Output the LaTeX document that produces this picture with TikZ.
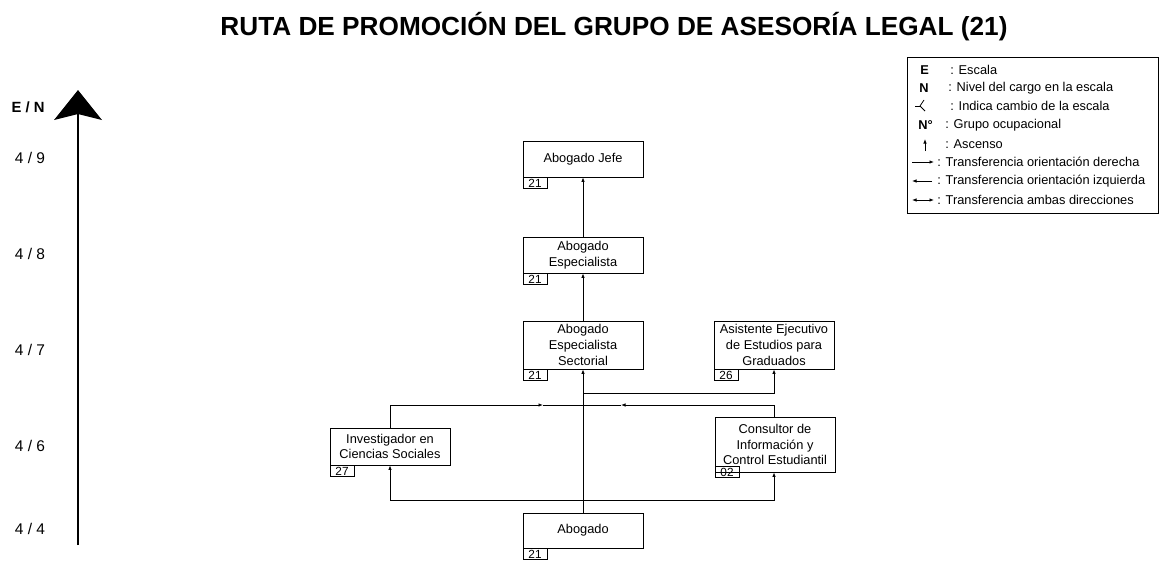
\documentclass[tikz,border=0pt]{standalone}
\usepackage{fontspec}
\setmainfont{Liberation Sans}
\usetikzlibrary{arrows.meta}

\tikzset{
  cargo/.style={draw, line width=0.8pt, minimum width=120pt, align=center, inner sep=0pt,
    font=\fontsize{12.8}{15.8}\selectfont},
  grupo/.style={draw, line width=0.8pt, minimum width=24pt, minimum height=11pt, inner sep=0pt,
    anchor=north west, font=\fontsize{11.8}{11}\selectfont},
  nivel/.style={font=\fontsize{15.5}{16}\selectfont},
  ley/.style={anchor=west, inner sep=0pt, font=\fontsize{12.8}{14}\selectfont},
}

\begin{document}
\begin{tikzpicture}[x=1pt,y=-1pt,line width=0.8pt,>={Latex[length=4.5pt,width=3.5pt]}]
            \useasboundingbox (0,0) rectangle (1162,566);

            % title
            \node[font=\fontsize{26.2}{28}\selectfont\bfseries] (titulo) at (614,27)
                {RUTA DE PROMOCIÓN DEL GRUPO DE ASESORÍA LEGAL (21)};

            % draw the scale axis
            \draw[line width=2.4pt] (78,545) -- (78,114);
            \fill (54,120) -- (78,90) -- (102,120) -- (78,114) -- cycle;
            \node[font=\fontsize{14.8}{16}\selectfont\bfseries] (en) at (28,107) {E / N};
            \node[nivel] (n9) at (30,158) {4 / 9};
            \node[nivel] (n8) at (30,254) {4 / 8};
            \node[nivel] (n7) at (30,350) {4 / 7};
            \node[nivel] (n6) at (30,446) {4 / 6};
            \node[nivel] (n4) at (30,529) {4 / 4};

            % the posts
            \node[cargo, minimum height=36pt] (jefe) at (583,159) {Abogado Jefe};
            \node[cargo, minimum height=36pt] (especialista) at (583,255) {Abogado\\Especialista};
            \node[cargo, minimum height=48pt] (sectorial) at (583,345) {Abogado\\Especialista\\Sectorial};
            \node[cargo, minimum height=48pt] (asistente) at (774,345) {Asistente Ejecutivo\\de Estudios para\\Graduados};
            \node[cargo, minimum height=37pt] (investigador) at (390,446.5) {Investigador en\\Ciencias Sociales};
            \node[cargo, minimum height=55pt] (consultor) at (775,444.5) {Consultor de\\Información y\\Control Estudiantil};
            \node[cargo, minimum height=35pt] (abogado) at (583,530.5) {Abogado};

            % group numbers
            \node[grupo] (gjefe) at (jefe.south west) {21};
            \node[grupo] (gesp) at (especialista.south west) {21};
            \node[grupo] (gsec) at (sectorial.south west) {21};
            \node[grupo] (gasi) at (asistente.south west) {26};
            \node[grupo] (ginv) at (investigador.south west) {27};
            \node[grupo] (gcon) at ([yshift=6pt]consultor.south west) {02};
            \node[grupo] (gabo) at (abogado.south west) {21};

            % ascenso
            \draw[->] (especialista.north) -- (jefe.south);
            \draw[->] (sectorial.north) -- (especialista.south);
            \draw[->] (abogado.north) -- (sectorial.south);

            % transfers from abogado
            \coordinate (ramaA) at (583,500);
            \draw[->] (ramaA) -| (investigador.south);
            \draw[->] (ramaA) -| ([xshift=-1pt]consultor.south);

            %to asistente
            \coordinate (ramaB) at (583,393);
            \draw[->] (ramaB) -| (asistente.south);

            %to sectorial
            \coordinate (une) at (583,405);
            \coordinate (flechaI) at (543,405);
            \coordinate (flechaC) at (621,405);
            \draw[->] (investigador.north) |- (flechaI);
            \draw (flechaI) -- (une);
            \draw[->] ([xshift=-1pt]consultor.north) |- (flechaC);
            \draw (flechaC) -- (une);

            % legend
            \node[draw, minimum width=251pt, minimum height=156pt, inner sep=0pt] (leyenda) at (1032.5,135) {};
            \node[ley, font=\fontsize{12.8}{14}\selectfont\bfseries] (le) at (920,70) {E};
            \node[ley] (tle) at (950,70) {: Escala};
            \node[ley, font=\fontsize{12.8}{14}\selectfont\bfseries] (ln) at (919,88) {N};
            \node[ley] (tln) at (948,88) {: Nivel del cargo en la escala};
            \draw (915,106) -- (920,106);
            \draw (924,100) -- (920,106) -- (925,111);
            \node[ley] (tlc) at (950,106) {: Indica cambio de la escala};
            \node[ley, font=\fontsize{12.8}{14}\selectfont\bfseries] (lg) at (918,125) {N°};
            \node[ley] (tlg) at (945,125) {: Grupo ocupacional};
            \draw[->] (925,151) -- (925,139);
            \node[ley] (tla) at (945,144) {: Ascenso};
            \draw[->] (912,162) -- (934,162);
            \node[ley] (tld) at (937,162) {: Transferencia orientación derecha};
            \draw[->] (932,181) -- (912,181);
            \node[ley] (tli) at (937,181) {: Transferencia orientación izquierda};
            \draw[<->] (912,200) -- (934,200);
            \node[ley] (tlb) at (937,200) {: Transferencia ambas direcciones};
        \end{tikzpicture}
\end{document}
